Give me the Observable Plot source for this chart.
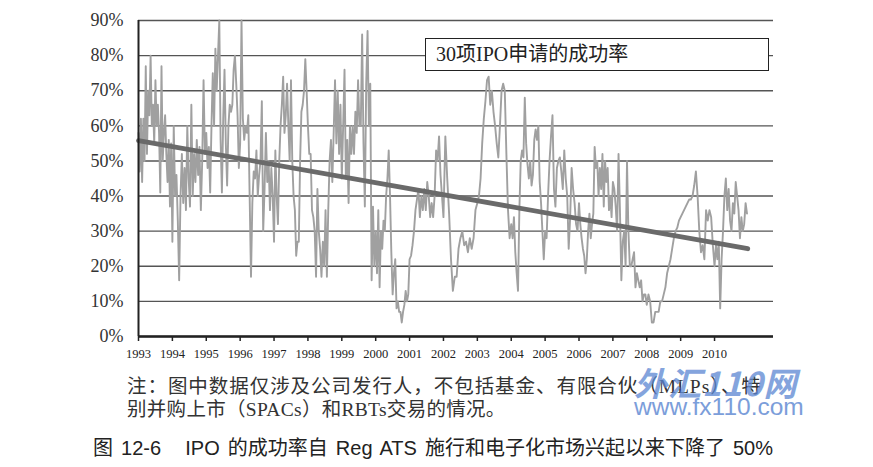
<!DOCTYPE html>
<html><head><meta charset="utf-8">
<script src="https://cdn.jsdelivr.net/npm/d3@7"></script>
<script src="https://cdn.jsdelivr.net/npm/@observablehq/plot@0.6"></script>
<style>
body{margin:0;background:#fff;width:873px;height:467px;position:relative;overflow:hidden;}
#chart{position:absolute;left:0;top:0;}
#legend{position:absolute;left:425px;top:38px;width:332px;height:31px;border:1.6px solid #222;background:#fff;
  font-family:"Liberation Serif","Noto Sans CJK SC",serif;font-size:20px;line-height:31px;padding-left:10px;box-sizing:content-box;color:#222;}
.note{position:absolute;left:127px;font-family:"Liberation Serif","Noto Sans CJK SC",serif;font-size:19.5px;line-height:22px;color:#333;white-space:nowrap;}
#title{position:absolute;left:93px;top:436px;font-family:"Liberation Sans","Noto Sans CJK SC",sans-serif;font-size:20px;line-height:24px;color:#222;white-space:pre;word-spacing:2.5px;}
#wm1{position:absolute;left:634px;top:368px;font-family:"Noto Sans CJK SC",sans-serif;font-weight:bold;font-style:italic;font-size:33px;line-height:28px;color:#5b86d2;opacity:0.75;white-space:nowrap;letter-spacing:1px;}
#wm2{position:absolute;left:634px;top:394px;font-family:"Liberation Sans",sans-serif;font-size:24.5px;line-height:26px;color:#5b86d2;opacity:0.8;white-space:nowrap;}
</style></head><body>
<div id="chart"></div>
<div id="legend">30项IPO申请的成功率</div>
<div class="note" style="top:376px;letter-spacing:0.95px">注：图中数据仅涉及公司发行人，不包括基金、有限合伙（MLPs）、特</div>
<div class="note" style="top:399px;letter-spacing:0.3px">别并购上市（SPACs）和RBTs交易的情况。</div>
<div id="title">图 12-6   IPO 的成功率自 Reg ATS 施行和电子化市场兴起以来下降了 50%</div>
<div id="wm1">外汇110网</div>
<div id="wm2">www.fx110.com</div>
<script>
// Success rate (%) of 30 IPO filings, readings per year (evenly spaced within each year)
const r1993 = [58,47,62,44,62,50,77,52,70,63,80,60,66,55,73,60,66,58,41,77,50,58,63,52,44,56,37,55];
const r1994 = [27,60,40,46,33,16,40,52,38,48,36,60,45,37,66,40,52,44,56,46,54,36,50,73,52];
const r1995 = [58,48,54,41,60,75,60,82,70,80,90,56,41,62,76,55,43,60,66,64,66,76,80,72,63,48];
const r1996 = [55,90,62,56,60,58,63,40,17,38,47,45,53,40,46,50,67,30,42,58,44,50,36,48,40];
const r1997 = [27,53,40,32,50,60,66,74,58,63,72,60,50,73,50,40,36,23,27,27,50,64,66,70,79,70];
const r1998 = [60,52,52,36,34,30,17,42,30,25,17,27,20,36,17,36,50,56,44,58,73,55,70,52,66];
const r1999 = [45,60,76,45,56,38,60,52,60,52,64,58,73,60,60,86,55,37,72,87,60,72,16,37,20];
const r2000 = [30,18,36,14,30,25,33,30,40,45,53,40,24,12,18,22,8,10,7,7,4,7,9,13,10,12];
const r2001 = [22,23,26,30,36,39,42,34,40,36,42,36,44,40,34,38,34,40,53,50,57,46,40];
const r2002 = [34,57,45,35,22,13,17,17,25,28,30,26,27,24,28,25,28,36];
const r2003 = [38,40,45,55,62,67,73,74,66,70,64,60,55,51,60,70,72,70,52,36,28];
const r2004 = [32,28,34,24,18,13,36,50,53,51,68,55,49,45,50,43,46,56,59,56,60,44,38,30,22];
const r2005 = [30,28,40,50,57,63,42,37,48,50,51,47,42,53,45,40,25,34,48,42,38,32,30];
const r2006 = [38,32,28,25,23,18,22,30,35,28,32,35,54,48,50,40,48,42,52,37,50,44,48,36,40,34];
const r2007 = [44,42,37,30,52,36,16,27,30,20,50,30,20,20,22,24,14,18,16,14,16,10,12,12];
const r2008 = [9,12,10,4,4,7,7,7,10,10,12,14,18,20,22,25,28,30,31,33];
const r2009 = [34,35,36,37,38,39,39,40,43,47,40,30,24,26,22,36,33,36,34,26];
const r2010 = [20,26,22,27,8,22,30,40,45,36,42,33,30,38,35,44,40,36,28,34,30,32,38,35];
const seriesYears = [1993,1994,1995,1996,1997,1998,1999,2000,2001,2002,2003,2004,2005,2006,2007,2008,2009,2010];
const seriesRates = [r1993,r1994,r1995,r1996,r1997,r1998,r1999,r2000,r2001,r2002,r2003,r2004,r2005,r2006,r2007,r2008,r2009,r2010];
// Linear trend line endpoints
const trendYears = [1993, 2010.98];
const trendRates = [55.8, 25];
const tickYears = d3.range(1993, 2011);
const tickRates = d3.range(0, 100, 10);

const points = seriesYears.flatMap((y, k) => seriesRates[k].map((v, i, a) => ({t: y + i / a.length, v})));
const trend = trendYears.map((t, i) => ({t, v: trendRates[i]}));

const chart = Plot.plot({
  width: 873, height: 365,
  marginLeft: 138, marginRight: 100, marginTop: 20, marginBottom: 29,
  style: {fontFamily: "'Liberation Serif', serif", background: "transparent", color: "#222"},
  x: {domain: [1993, 2011.74], label: null},
  y: {domain: [0, 90], label: null},
  marks: [
    Plot.gridY(tickRates, {stroke: "#555", strokeOpacity: 1, strokeWidth: 1.4}),
    Plot.line(points, {x: "t", y: "v", stroke: "#a0a0a0", strokeWidth: 1.9}),
    Plot.line(trend, {x: "t", y: "v", stroke: "#6a6a6a", strokeWidth: 4.8}),
    Plot.ruleX([1993], {stroke: "#222", strokeWidth: 2}),
    Plot.ruleY([0], {stroke: "#222", strokeWidth: 2.5}),
    Plot.axisX(tickYears, {tickFormat: d => String(d), tickSize: 5, tickPadding: 8, fontSize: 12.5, stroke: "#222", strokeWidth: 1.5, fill: "#222"}),
    Plot.axisY(tickRates, {tickFormat: d => d + "%", tickSize: 0, tickPadding: 15, fontSize: 18, fill: "#333"})
  ]
});
document.getElementById("chart").appendChild(chart);
</script>
</body></html>
